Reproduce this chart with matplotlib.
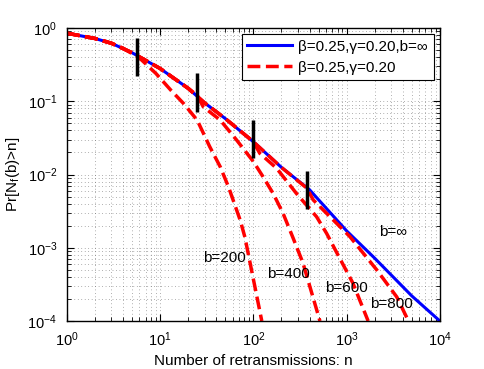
import matplotlib
matplotlib.use("Agg")
import matplotlib.pyplot as plt
from matplotlib.ticker import LogLocator

plt.rcParams['font.family'] = ['Liberation Sans', 'DejaVu Sans']
plt.rcParams['mathtext.fontset'] = 'custom'
plt.rcParams['mathtext.rm'] = 'Liberation Sans'
plt.rcParams['mathtext.it'] = 'Liberation Sans:italic'

# b = infinity (blue solid)
n_inf = [1, 2, 3, 5, 10, 20, 30, 50, 100, 200, 400, 1000, 2000, 5000, 10000]
p_inf = [0.85, 0.72, 0.62, 0.46, 0.28, 0.15, 0.095, 0.058, 0.028, 0.0125,
         0.0062, 0.0017, 0.00072, 0.00022, 0.0001]

# finite b (red dashed)
n_200 = [1, 2, 3, 4, 6, 9, 13, 18, 25, 34, 44, 54, 72, 81, 100, 123]
p_200 = [0.85, 0.72, 0.62, 0.53, 0.39, 0.24, 0.142, 0.092, 0.055, 0.024,
         0.0128, 0.0068, 0.0024, 0.0014, 0.00037, 0.0001]

n_400 = [1, 2, 3, 5, 10, 20, 25, 29, 44, 66, 100, 127, 163, 208, 267, 340, 517]
p_400 = [0.85, 0.72, 0.62, 0.46, 0.28, 0.15, 0.12, 0.084, 0.0555, 0.0296,
         0.015, 0.0093, 0.0055, 0.00295, 0.00135, 0.00062, 0.0001]

n_600 = [1, 2, 3, 5, 10, 20, 30, 50, 100, 117, 177, 290, 476, 610, 786, 1166, 1700]
p_600 = [0.85, 0.72, 0.62, 0.46, 0.28, 0.15, 0.095, 0.058, 0.028, 0.0195,
         0.0122, 0.0055, 0.00265, 0.00157, 0.00085, 0.00033, 0.0001]

n_800 = [1, 2, 3, 5, 10, 20, 30, 50, 100, 200, 375, 438, 717, 1083, 2100, 3450, 4600]
p_800 = [0.85, 0.72, 0.62, 0.46, 0.28, 0.15, 0.095, 0.058, 0.028, 0.0125,
         0.0065, 0.0045, 0.0024, 0.00142, 0.0005, 0.000213, 0.0001]

# black bars where each finite-b curve leaves the b=inf curve
mark_n = [5.7, 24.6, 98, 372]
mark_lo = [0.223, 0.072, 0.0166, 0.00335]
mark_hi = [0.737, 0.245, 0.055, 0.0112]

labels = ['b=200', 'b=400', 'b=600', 'b=800', 'b=\u221e']
label_n = [28.7, 140, 584, 1775, 2218]
label_p = [7.2e-4, 4.4e-4, 2.8e-4, 1.7e-4, 1.66e-3]

fig = plt.figure(figsize=(4.85, 3.69), dpi=100)
ax = fig.add_axes([0.138, 0.130, 0.769, 0.794])

ax.loglog(n_inf, p_inf, color='blue', lw=2.2, label='\u03b2=0.25,\u03b3=0.20,b=\u221e')
first = True
for nn, pp in [(n_200, p_200), (n_400, p_400), (n_600, p_600), (n_800, p_800)]:
    ax.loglog(nn, pp, color='red', lw=2.5, ls='--',
              label='\u03b2=0.25,\u03b3=0.20' if first else None)
    first = False

ax.vlines(mark_n, mark_lo, mark_hi, colors='black', lw=2.5, zorder=5)

for t, x, y in zip(labels, label_n, label_p):
    ax.text(x, y, t, fontsize=11, ha='left', va='center')

ax.set_xlim(1, 1e4)
ax.set_ylim(1e-4, 1)
ax.xaxis.set_major_locator(LogLocator(base=10, numticks=10))
ax.xaxis.set_minor_locator(LogLocator(base=10, subs=range(2, 10), numticks=10))
ax.yaxis.set_major_locator(LogLocator(base=10, numticks=10))
ax.yaxis.set_minor_locator(LogLocator(base=10, subs=range(2, 10), numticks=10))

ax.grid(True, which='both', color='0.4', ls=(0, (1, 4)), lw=0.5)
ax.tick_params(which='both', direction='in', top=True, right=True, labelsize=10.5)
ax.tick_params(which='major', length=5, pad=7)
ax.tick_params(which='minor', length=3)
for s in ax.spines.values():
    s.set_linewidth(1.0)

ax.set_xlabel('Number of retransmissions: n', fontsize=11, labelpad=3)
ax.set_ylabel('Pr[N$_{\\mathrm{f}}$(b)>n]', fontsize=11)
ax.yaxis.set_label_coords(-0.12, 0.5)

leg = ax.legend(loc='upper right', bbox_to_anchor=(0.983, 0.978), borderaxespad=0,
                fontsize=11, handlelength=2.9, handletextpad=0.45, borderpad=0.35,
                labelspacing=0.45, fancybox=False, framealpha=1, edgecolor='black')
leg.get_frame().set_linewidth(0.8)

fig.savefig('out.png', dpi=100)
